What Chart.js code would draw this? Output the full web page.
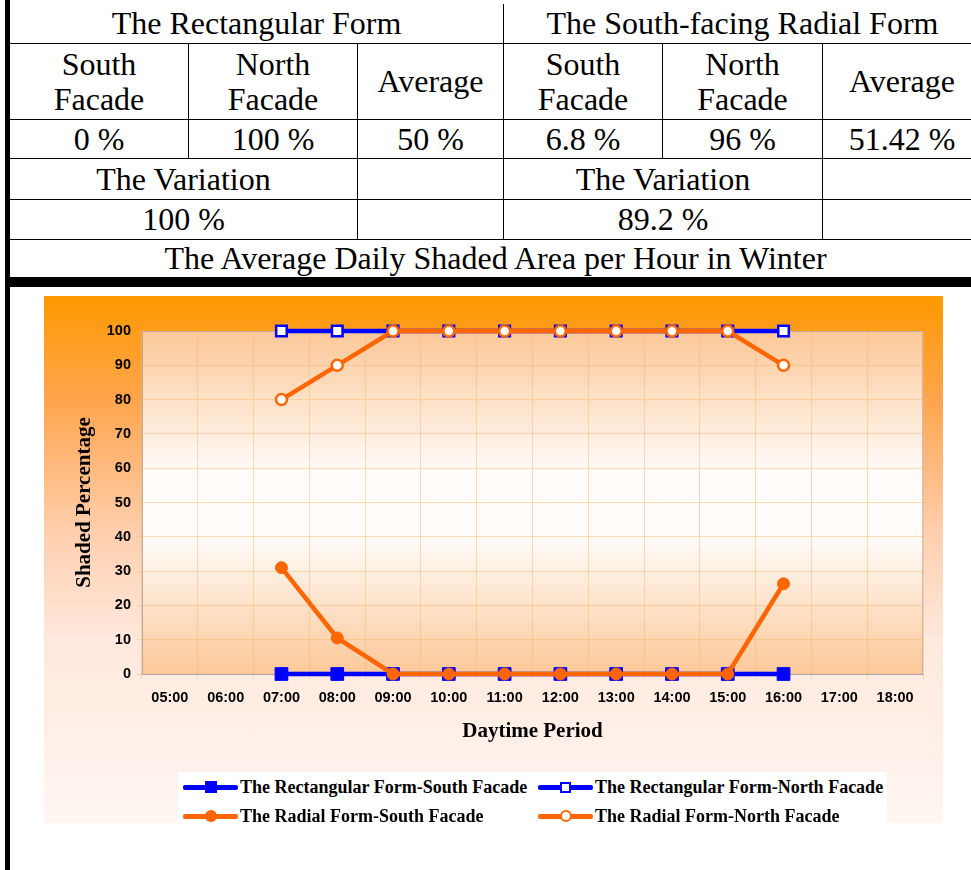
<!DOCTYPE html>
<html>
<head>
<meta charset="utf-8">
<script src="https://cdn.jsdelivr.net/npm/chart.js@4/dist/chart.umd.min.js"></script>
<style>
  html, body { margin: 0; padding: 0; background: #fff; }
  body { width: 971px; height: 870px; position: relative; overflow: hidden; }
  #leftBar { position: absolute; left: 5px; top: 0; width: 5px; height: 870px; background: #000; }
  #bottomBar { position: absolute; left: 5px; top: 277px; width: 980px; height: 10px; background: #000; }
  #grid {
    position: absolute; left: 10px; top: 4px;
    display: grid; background: #000; gap: 1px;
    grid-template-columns: 178px 168px 145px 158px 159px 158px;
    grid-template-rows: 39px 75px 38px 40px 39px 37px;
    font-family: "Liberation Serif", "Times New Roman", serif; font-size: 32px; line-height: 35px; color: #000;
  }
  #grid div { background: #fff; display: flex; align-items: center; justify-content: center; text-align: center; }
  #chartBox {
    position: absolute; left: 44px; top: 296px; width: 899px; height: 527px;
    background: linear-gradient(to bottom, #ff9900 0%, #ffa54f 20%, #ffcfae 45%, #ffe8dc 65%, #fff6f2 100%);
  }
  #chartBox canvas { position: absolute; left: 0; top: 0; }
  #legend {
    position: absolute; left: 134px; top: 476px; width: 709px; height: 51px; background: #fff;
    font-family: "Liberation Serif", "Times New Roman", serif; font-weight: bold; font-size: 18px; color: #000;
  }
  .item { position: absolute; height: 20px; display: flex; align-items: center; white-space: nowrap; }
  .sample { position: relative; width: 55px; height: 20px; margin-right: 2px; }
  .sample .ln { position: absolute; left: 0; top: 8px; width: 55px; height: 4.5px; border-radius: 2px; }
  .sample .mk { position: absolute; box-sizing: border-box; }
</style>
</head>
<body>
<div id="leftBar"></div>
<div id="grid">
  <div style="grid-column: span 3">The Rectangular Form</div>
  <div style="grid-column: span 3">The South-facing Radial Form</div>
  <div>South<br>Facade</div><div>North<br>Facade</div><div>Average</div>
  <div>South<br>Facade</div><div>North<br>Facade</div><div>Average</div>
  <div>0 %</div><div>100 %</div><div>50 %</div>
  <div>6.8 %</div><div>96 %</div><div>51.42 %</div>
  <div style="grid-column: span 2">The Variation</div><div></div>
  <div style="grid-column: span 2">The Variation</div><div></div>
  <div style="grid-column: span 2">100 %</div><div></div>
  <div style="grid-column: span 2">89.2 %</div><div></div>
  <div style="grid-column: span 6">The Average Daily Shaded Area per Hour in Winter</div>
</div>
<div id="bottomBar"></div>
<div id="chartBox">
  <canvas id="chart" width="899" height="527"></canvas>
  <div id="legend"></div>
</div>
<script>
const hours = ['05:00','06:00','07:00','08:00','09:00','10:00','11:00','12:00','13:00','14:00','15:00','16:00','17:00','18:00'];
const rectSouth   = [null, null, 0, 0, 0, 0, 0, 0, 0, 0, 0, 0, null, null];
const rectNorth   = [null, null, 100, 100, 100, 100, 100, 100, 100, 100, 100, 100, null, null];
const radialSouth = [null, null, 31, 10.5, 0, 0, 0, 0, 0, 0, 0, 26.3, null, null];
const radialNorth = [null, null, 80, 90, 100, 100, 100, 100, 100, 100, 100, 90, null, null];
const seriesNames = [
  'The Rectangular Form-South Facade',
  'The Rectangular Form-North Facade',
  'The Radial Form-South Facade',
  'The Radial Form-North Facade'
];
const yTicks = [0, 10, 20, 30, 40, 50, 60, 70, 80, 90, 100];

const BLUE = '#0000ff';
const ORANGE = '#ff6600';

function series(label, data, color, style, hollow, radius, order){
  return {
    label, data, order,
    borderColor: color, borderWidth: 4.5,
    pointStyle: style, pointRadius: radius, pointHoverRadius: radius,
    pointBackgroundColor: hollow ? '#fff' : color,
    pointBorderColor: color, pointBorderWidth: hollow ? 2.5 : 1,
    spanGaps: false, tension: 0, clip: false,
    hollow
  };
}

const datasets = [
  series(seriesNames[0], rectSouth, BLUE, 'rect', false, 9, 1),
  series(seriesNames[1], rectNorth, BLUE, 'rect', true, 7.5, 1),
  series(seriesNames[2], radialSouth, ORANGE, 'circle', false, 6, 0),
  series(seriesNames[3], radialNorth, ORANGE, 'circle', true, 5.5, 0)
];

// plot area background + frame
const plotBg = {
  id: 'plotBg',
  beforeDraw(chart){
    const {ctx, chartArea: a} = chart;
    const g = ctx.createLinearGradient(0, a.top, 0, a.bottom);
    g.addColorStop(0, '#fcc898');
    g.addColorStop(0.42, '#fffcfa');
    g.addColorStop(0.6, '#fffcfa');
    g.addColorStop(1, '#fcc898');
    ctx.save();
    ctx.fillStyle = g;
    ctx.fillRect(a.left, a.top, a.right - a.left, a.bottom - a.top);
    ctx.restore();
  },
  beforeDatasetsDraw(chart){
    const {ctx, chartArea: a} = chart;
    ctx.save();
    ctx.strokeStyle = 'rgba(160,160,180,0.6)';
    ctx.lineWidth = 1;
    ctx.strokeRect(a.left + 0.5, a.top + 0.5, a.right - a.left - 1, a.bottom - a.top);
    ctx.restore();
  }
};

const gridColor = 'rgba(250,180,100,0.45)';

new Chart(document.getElementById('chart'), {
  type: 'line',
  data: { labels: hours, datasets },
  options: {
    responsive: false,
    devicePixelRatio: 1,
    animation: false,
    layout: { padding: { top: 35, right: 20, bottom: 69, left: 0 } },
    plugins: { legend: { display: false }, tooltip: { enabled: false } },
    scales: {
      x: {
        offset: true,
        grid: { offset: true, color: gridColor, tickLength: 5, drawTicks: true },
        border: { color: 'rgba(160,150,150,0.7)' },
        ticks: { color: '#000', padding: 10, maxRotation: 0, autoSkip: false,
                 font: { family: 'Liberation Sans, Arial', weight: 'bold', size: 14.5 } },
        title: { display: true, text: 'Daytime Period', color: '#000', padding: { top: 0, bottom: 10 },
                 font: { family: 'Liberation Serif, Times New Roman', weight: 'bold', size: 21 } },
        afterFit(s){ s.height = 80; }
      },
      y: {
        min: 0, max: 100,
        afterBuildTicks(s){ s.ticks = yTicks.map(v => ({ value: v })); },
        grid: { color: gridColor, tickLength: 5 },
        border: { color: 'rgba(200,170,140,0.8)' },
        ticks: { color: '#000', padding: 6,
                 font: { family: 'Liberation Sans, Arial', weight: 'bold', size: 14.5 } },
        title: { display: true, text: 'Shaded Percentage', color: '#000', padding: { top: 28, bottom: 0 },
                 font: { family: 'Liberation Serif, Times New Roman', weight: 'bold', size: 21 } },
        afterFit(s){ s.width = 98; }
      }
    }
  },
  plugins: [plotBg]
});

// legend built from the datasets
const legend = document.getElementById('legend');
const spots = [[5, 5], [360, 5], [5, 34], [360, 34]];
datasets.forEach((d, i) => {
  const item = document.createElement('div');
  item.className = 'item';
  item.style.left = spots[i][0] + 'px';
  item.style.top = spots[i][1] + 'px';
  const sample = document.createElement('div');
  sample.className = 'sample';
  const ln = document.createElement('div');
  ln.className = 'ln';
  ln.style.background = d.borderColor;
  const mk = document.createElement('div');
  mk.className = 'mk';
  const size = d.pointStyle === 'rect' ? (d.hollow ? 11 : 12) : 12;
  mk.style.width = size + 'px';
  mk.style.height = size + 'px';
  mk.style.left = (27.5 - size / 2) + 'px';
  mk.style.top = (10 - size / 2) + 'px';
  mk.style.background = d.pointBackgroundColor;
  mk.style.border = (d.hollow ? 2.5 : 0) + 'px solid ' + d.borderColor;
  if (d.pointStyle === 'circle') mk.style.borderRadius = '50%';
  sample.appendChild(ln);
  sample.appendChild(mk);
  const txt = document.createElement('span');
  txt.textContent = d.label;
  item.appendChild(sample);
  item.appendChild(txt);
  legend.appendChild(item);
});
</script>
</body>
</html>
